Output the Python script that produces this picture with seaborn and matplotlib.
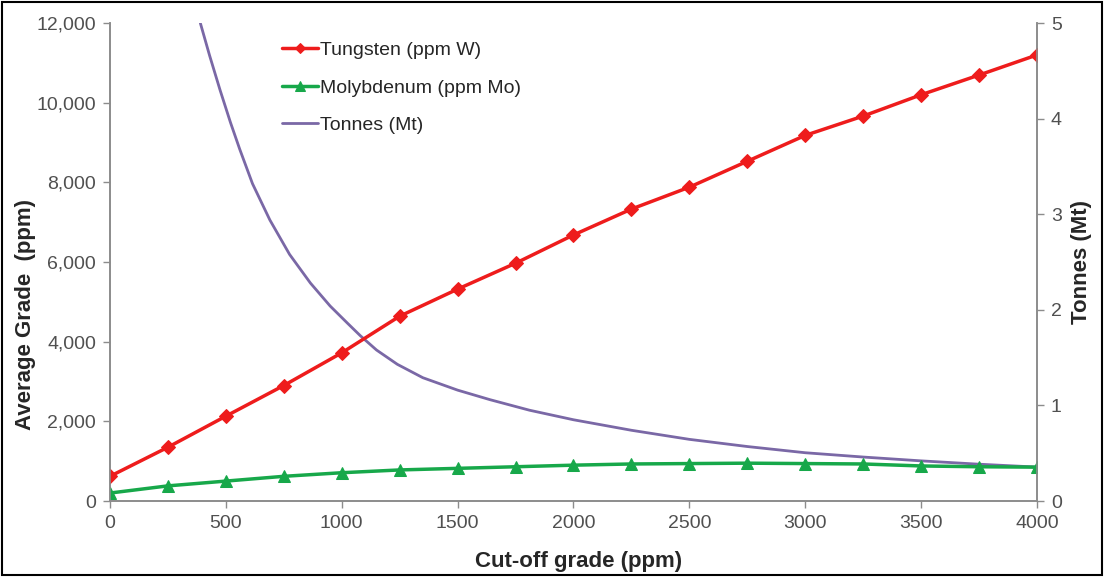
import pandas as pd
import numpy as np
from matplotlib import pyplot as plt
import matplotlib.patches as mpatches
import seaborn as sns

# cut-off grades (ppm) for the grade series
cutoff = [0, 250, 500, 750, 1000, 1250, 1500, 1750, 2000,
          2250, 2500, 2750, 3000, 3250, 3500, 3750, 4000]
tungsten = [620, 1350, 2130, 2900, 3720, 4640, 5320, 5970, 6680,
            7330, 7880, 8530, 9180, 9665, 10200, 10695, 11200]
molybdenum = [200, 380, 500, 620, 710, 780, 820, 860, 900,
              930, 940, 950, 940, 930, 880, 860, 850]

# tonnes curve (Mt)
tonnes_cut = [390, 430, 475, 520, 560, 615, 690, 775, 865, 950, 1025, 1080,
              1150, 1240, 1350, 1500, 1640, 1810, 2000, 2250, 2500, 2750,
              3000, 3250, 3500, 3750, 4000]
tonnes = [5.0, 4.66, 4.30, 3.96, 3.68, 3.32, 2.94, 2.58, 2.28, 2.04, 1.86, 1.73,
          1.58, 1.43, 1.29, 1.16, 1.06, 0.95, 0.85, 0.74, 0.645, 0.57,
          0.505, 0.46, 0.42, 0.385, 0.355]

if __name__ == '__main__':
    sns.set_style('white')
    plt.rcParams['font.family'] = ['Liberation Sans', 'DejaVu Sans']

    df = pd.DataFrame({'cutoff': cutoff, 'W': tungsten, 'Mo': molybdenum})
    df_t = pd.DataFrame({'cutoff': tonnes_cut, 't': tonnes})

    red = '#ee1c1c'
    green = '#17a84a'
    purple = '#7a68a6'
    grey = '#8c8c8c'
    tick_col = '#505050'

    fig = plt.figure(figsize=(11.04, 5.77), dpi=100)
    ax = fig.add_axes([0.0996, 0.1317, 0.8397, 0.8283])
    ax2 = ax.twinx()

    sns.lineplot(data=df_t, x='cutoff', y='t', ax=ax2, color=purple,
                 linewidth=2, label='Tonnes (Mt)', legend=False)
    sns.lineplot(data=df, x='cutoff', y='Mo', ax=ax, color=green, linewidth=2.5,
                 marker='^', markersize=9, markeredgecolor=green,
                 label='Molybdenum (ppm Mo)', legend=False)
    sns.lineplot(data=df, x='cutoff', y='W', ax=ax, color=red, linewidth=2.5,
                 marker='D', markersize=7, markeredgecolor=red,
                 label='Tungsten (ppm W)', legend=False)
    ax.set_zorder(ax2.get_zorder() + 1)
    ax.patch.set_visible(False)

    ax.set_xlim(0, 4000)
    ax.set_ylim(0, 12000)
    ax2.set_ylim(0, 5)
    ax.set_xticks(np.arange(0, 4001, 500))
    ax.set_yticks(np.arange(0, 12001, 2000))
    ax.set_yticklabels([f'{v:,}' for v in range(0, 12001, 2000)])
    ax2.set_yticks(range(0, 6))

    ax.set_xlabel('Cut-off grade (ppm)', fontsize=16, fontweight='bold')
    ax.set_ylabel('Average Grade  (ppm)', fontsize=16, fontweight='bold')
    ax2.set_ylabel('Tonnes (Mt)', fontsize=16, fontweight='bold')
    ax.xaxis.set_label_coords(0.506, -0.104)
    ax.yaxis.set_label_coords(-0.08, 0.39)
    ax2.yaxis.set_label_coords(1.037, 0.5)

    for a in (ax, ax2):
        a.spines['top'].set_visible(False)
        for s in ('left', 'right', 'bottom'):
            a.spines[s].set_color(grey)
            a.spines[s].set_linewidth(1.2)
        a.tick_params(axis='both', which='major', direction='out', length=5,
                      width=1, color=grey, labelcolor=tick_col, labelsize=14,
                      left=(a is ax), right=(a is ax2), bottom=True, pad=5)
        a.grid(False)

    h1, l1 = ax.get_legend_handles_labels()
    h2, l2 = ax2.get_legend_handles_labels()
    handles = [h1[1], h1[0], h2[0]]
    labels = [l1[1], l1[0], l2[0]]
    ax.legend(handles, labels, loc='upper left', bbox_to_anchor=(0.171, 0.99),
              frameon=False, fontsize=14, handlelength=1.85, handletextpad=0.1,
              labelspacing=1.02, markerscale=0.75, borderaxespad=0.3)

    # outer frame of the picture
    fig.patches.append(mpatches.Rectangle((0.002, 0.003), 0.996, 0.994,
                                          transform=fig.transFigure, fill=False,
                                          edgecolor='black', linewidth=1.5))

    fig.savefig('out.png', dpi=100)
